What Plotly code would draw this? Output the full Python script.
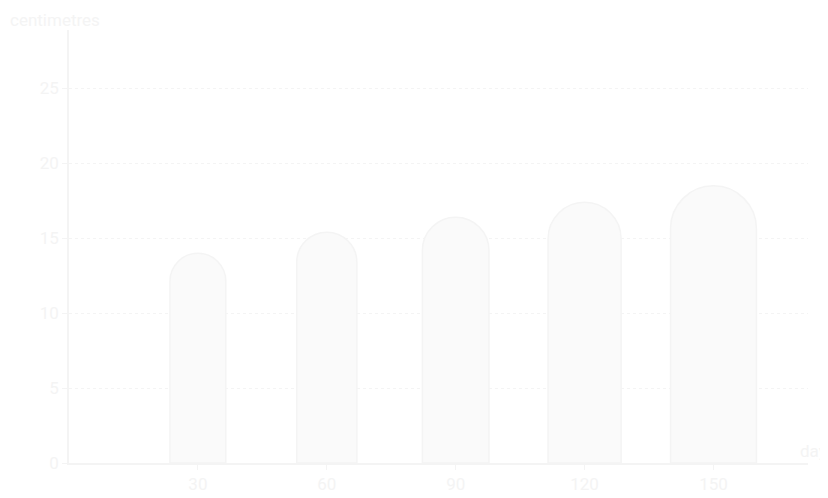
import plotly.graph_objects as go

# plant height by day
days = [30, 60, 90, 120, 150]
height_cm = [14.0, 15.4, 16.4, 17.4, 18.5]
bar_widths = [13, 14, 15.5, 17, 20]

x_ticks = [30, 60, 90, 120, 150]
y_ticks = [0, 5, 10, 15, 20, 25]

faint = "#f4f4f4"
fainter = "#fafafa"

fig = go.Figure()
fig.add_trace(go.Bar(
    x=days,
    y=height_cm,
    width=bar_widths,
    marker=dict(color=fainter, line=dict(color=faint, width=1.5)),
    hoverinfo="x+y",
))

fig.update_layout(
    width=828,
    height=498,
    margin=dict(l=61, r=28, t=22, b=28),
    paper_bgcolor="white",
    plot_bgcolor="white",
    showlegend=False,
    barcornerradius="50%",
    font=dict(family="Roboto", size=17, color=faint),
    xaxis=dict(
        range=[0, 172],
        tickvals=x_ticks,
        showgrid=False,
        showline=True,
        linecolor=faint,
        linewidth=1.5,
        ticks="outside",
        tickcolor=faint,
        ticklen=5,
        zeroline=False,
    ),
    yaxis=dict(
        range=[0, 28.9],
        tickvals=y_ticks,
        showgrid=True,
        gridcolor=faint,
        griddash="dot",
        showline=True,
        linecolor=faint,
        linewidth=1.5,
        ticks="outside",
        tickcolor=faint,
        ticklen=5,
        zeroline=False,
    ),
    annotations=[
        dict(text="centimetres", xref="paper", yref="paper", x=-0.083, y=1.05,
             xanchor="left", yanchor="top", showarrow=False,
             font=dict(size=17, color=faint)),
        dict(text="days", xref="paper", yref="paper", x=1.04, y=0.0,
             xanchor="right", yanchor="bottom", showarrow=False,
             font=dict(size=17, color=faint)),
    ],
)

fig.write_html("out.html")
